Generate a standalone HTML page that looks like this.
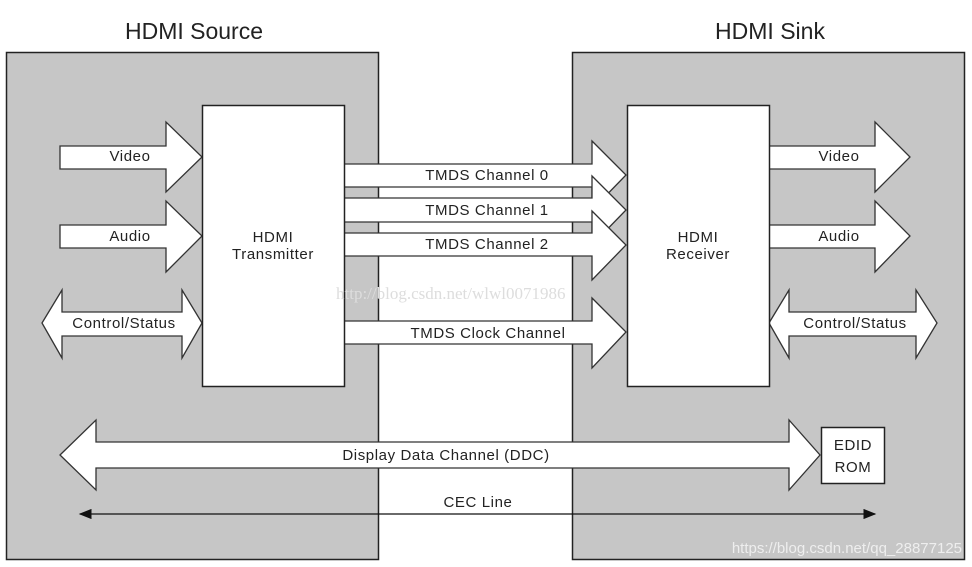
<!DOCTYPE html>
<html><head><meta charset="utf-8"><style>
html,body{margin:0;padding:0;background:#fff;}
svg{display:block;}
text{font-family:"Liberation Sans",Arial,sans-serif;fill:#222;}
</style></head><body>
<svg width="972" height="567" viewBox="0 0 972 567" xmlns="http://www.w3.org/2000/svg">
<defs><marker id="ah" markerWidth="10" markerHeight="8" refX="9" refY="4" orient="auto-start-reverse"><path d="M0,0 L10,4 L0,8 z" fill="#111"/></marker></defs>
<text x="194" y="39" font-size="23" text-anchor="middle">HDMI Source</text>
<text x="770" y="39" font-size="23" text-anchor="middle">HDMI Sink</text>
<rect x="6.5" y="52.5" width="372" height="507" fill="#c6c6c6" stroke="#222" stroke-width="1.5"/>
<rect x="572.5" y="52.5" width="392" height="507" fill="#c6c6c6" stroke="#222" stroke-width="1.5"/>
<g fill="#fff" stroke="#333" stroke-width="1.3">
<path d="M60,146 H166 V122 L202,157 L166,192 V169 H60 Z"/>
<path d="M60,225 H166 V201 L202,236 L166,272 V248 H60 Z"/>
<path d="M42,323 L62,290 V312 H182 V290 L202,323 L182,358 V336 H62 V358 Z"/>
<path d="M769,146 H875 V122 L910,157 L875,192 V169 H769 Z"/>
<path d="M769,225 H875 V201 L910,236 L875,272 V248 H769 Z"/>
<path d="M769,323 L789,290 V312 H916 V290 L937,323 L916,358 V336 H789 V358 Z"/>
<path d="M344,164 H592 V141 L626,175 L592,210 V187 H344 Z"/>
<path d="M344,198 H592 V176 L626,210 L592,245 V222 H344 Z"/>
<path d="M344,233 H592 V211 L626,245 L592,280 V256 H344 Z"/>
<path d="M344,321 H592 V298 L626,332 L592,368 V344 H344 Z"/>
<path d="M60,455 L96,420 V442 H789 V420 L820,455 L789,490 V468 H96 V490 Z"/>
</g>
<rect x="202.5" y="105.5" width="142" height="281" fill="#fff" stroke="#222" stroke-width="1.5"/>
<rect x="627.5" y="105.5" width="142" height="281" fill="#fff" stroke="#222" stroke-width="1.5"/>
<rect x="821.5" y="427.5" width="63" height="56" fill="#fff" stroke="#222" stroke-width="1.5"/>
<line x1="80" y1="514" x2="875" y2="514" stroke="#111" stroke-width="1.3" marker-start="url(#ah)" marker-end="url(#ah)"/>
<g font-size="15" text-anchor="middle" letter-spacing="0.6">
<text x="130" y="161">Video</text>
<text x="130" y="241">Audio</text>
<text x="124" y="328">Control/Status</text>
<text x="839" y="161">Video</text>
<text x="839" y="241">Audio</text>
<text x="855" y="328">Control/Status</text>
<text x="487" y="180">TMDS Channel 0</text>
<text x="487" y="215">TMDS Channel 1</text>
<text x="487" y="249">TMDS Channel 2</text>
<text x="488" y="338">TMDS Clock Channel</text>
<text x="446" y="460">Display Data Channel (DDC)</text>
<text x="478" y="507">CEC Line</text>
<text x="853" y="450">EDID</text>
<text x="853" y="472">ROM</text>
<text x="273" y="242">HDMI</text>
<text x="273" y="259">Transmitter</text>
<text x="698" y="242">HDMI</text>
<text x="698" y="259">Receiver</text>
</g>
<text x="336" y="299" font-size="17" style="fill:#ddd;font-family:'Liberation Serif',serif">http://blog.csdn.net/wlwl0071986</text>
<text x="962" y="553" font-size="15" text-anchor="end" style="fill:#eee">https://blog.csdn.net/qq_28877125</text>
</svg>
</body></html>
